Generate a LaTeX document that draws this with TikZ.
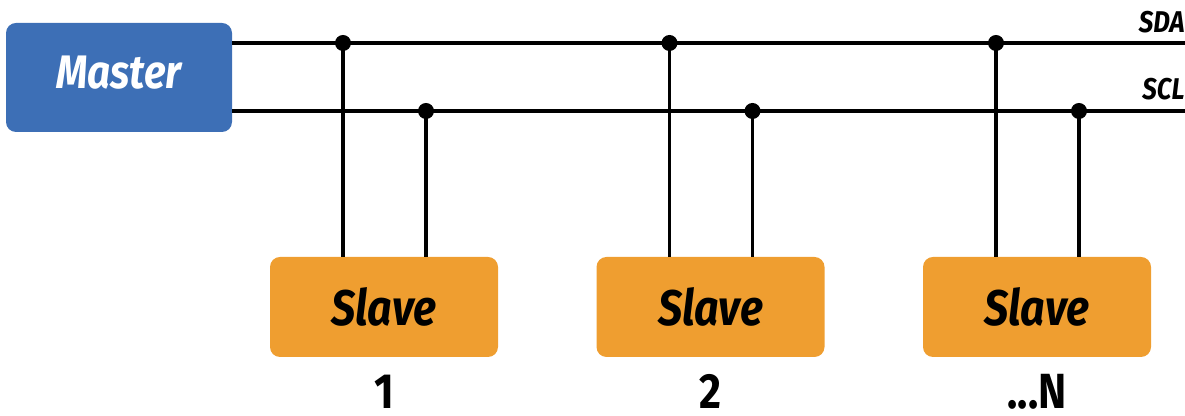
\documentclass[tikz,border=0pt]{standalone}
\usepackage{fontspec}
\setmainfont{Fira Sans}[FakeStretch=0.86]
\usepackage{tikz}

\definecolor{azulMaster}{RGB}{61,111,182}
\definecolor{naranjaSlave}{RGB}{239,158,48}

\begin{document}
\begin{tikzpicture}[x=0.5pt,y=0.5pt]
    \tikzset{Maestro/.style = {shape=rectangle,fill=azulMaster,rounded corners=5pt,minimum width=113pt,minimum height=54.5pt,inner sep=0pt,text=white,font=\fontsize{23.5}{25}\selectfont\bfseries\itshape}}
    \tikzset{Esclavo/.style = {shape=rectangle,fill=naranjaSlave,rounded corners=5pt,minimum width=114pt,minimum height=50pt,inner sep=0pt,text=black,font=\fontsize{25}{27}\selectfont\bfseries\itshape}}
    \tikzset{etiquetaBus/.style = {anchor=base east,inner sep=0pt,font=\fontsize{15}{16}\selectfont\bfseries\itshape}}
    \tikzset{numero/.style = {anchor=base,inner sep=0pt,font=\fontsize{24.7}{26}\selectfont\bfseries}}
    \tikzset{linea/.style = {line width=1.6pt,black}}

    \useasboundingbox (0,0) rectangle (1185,416);

    \node[Maestro] (master) at (119,338.5) {\raisebox{5pt}{Master}};

    %Extremos del bus
    \coordinate (sdaFin) at (1185,373);
    \coordinate (sclFin) at (1185,305);

    \draw [linea] (master.east |- sdaFin) -- (sdaFin);
    \draw [linea] (master.east |- sclFin) -- (sclFin);

    \node[etiquetaBus] (sdaTxt) at (1185,383) {SDA};
    \node[etiquetaBus] (sclTxt) at (1185,316) {SCL};

    %Esclavos colgados del bus
    \foreach \n/\cx/\lab in {1/384/1, 2/710.5/2, 3/1037/{...N}} {
        \node[Esclavo] (slave\n) at (\cx,109) {Slave};
        \node[numero] (num\n) at (\cx,7) {\lab};

        \coordinate (sda\n) at (\cx-41,373);
        \coordinate (scl\n) at (\cx+42,305);

        \draw [linea] (sda\n) -- (slave\n.north -| sda\n);
        \draw [linea] (scl\n) -- (slave\n.north -| scl\n);
        \fill (sda\n) circle (8);
        \fill (scl\n) circle (8);
    }

\end{tikzpicture}
\end{document}
